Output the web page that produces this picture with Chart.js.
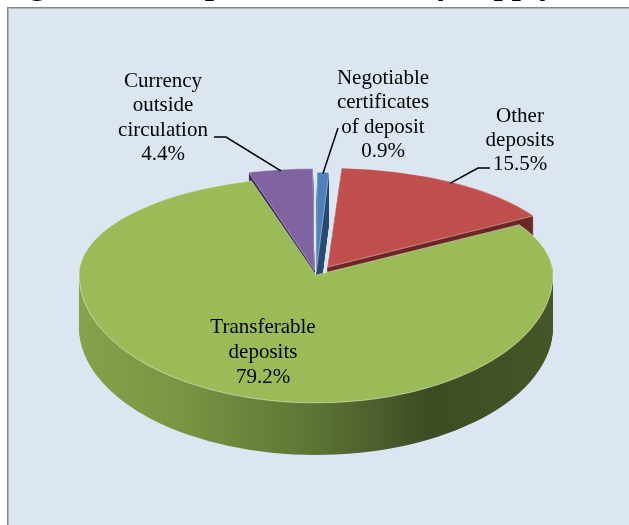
<!DOCTYPE html>
<html>
<head>
<meta charset="utf-8">
<title>Composition of money supply</title>
<script src="https://cdn.jsdelivr.net/npm/chart.js@4.4.1/dist/chart.umd.min.js"></script>
<style>
	html, body { margin: 0; padding: 0; background: #fff; }
	#wrap { width: 629px; height: 525px; }
</style>
</head>
<body>
<div id="wrap"><canvas id="chart-money-supply" width="629" height="525"></canvas></div>
<script>
// Data (clockwise from 12 o'clock)
const CATEGORIES = ["Negotiable certificates of deposit", "Other deposits", "Transferable deposits", "Currency outside circulation"];
const SHARES = [0.9, 15.5, 79.2, 4.4];
const LABEL_LINES = [["Negotiable", "certificates", "of deposit"], ["Other", "deposits"], ["Transferable", "deposits"], ["Currency", "outside", "circulation"]];
const TITLE = "Figure 4: Composition of money supply";

// Look
const COLORS = ["#4f81bd", "#c0504d", "#9bbb59", "#8064a2"];
const SIDE_COLORS = ["#2b4b72", "#6b2826", null, "#3b2c50"];
const EXPLODE = [24, 88, 0, 48];

// Fake perspective: far half flatter than near half, both hinged at the apex
const CX = 316; // chart centre x (chart coords = screen coords)
const CY_C = 287; // chart centre y in chart coords
const APEX_Y = 275; // where the centre lands on screen
const K_TOP = 0.413;
const K_BOT = 0.54;
const DEPTH = 52;

// Label boxes: centre x, first line y, line height, and leader points
const LABEL_BOXES = [
	{ x: 383, y: 78, lh: 24.5, leader: [[338, 128]] },
	{ x: 520, y: 116, lh: 24, leader: [[490, 168], [478, 168]] },
	{ x: 263, y: 327, lh: 25, leader: null },
	{ x: 163, y: 81, lh: 24.5, leader: [[214, 137], [226, 137]] },
];

const toScreen = (x, y) => ({ x: x, y: APEX_Y + (y - CY_C) * (y < CY_C ? K_TOP : K_BOT) });

const edgePoint = (arc, inset) => {
	const offset = (arc.options.offset || 0) / 4;
	const half = (arc.startAngle + arc.endAngle) / 2;
	const fix = 1 - Math.sin(Math.min(Math.PI, arc.circumference));
	const r = arc.outerRadius + offset * fix + offset - inset;
	return toScreen(arc.x + Math.cos(half) * r, arc.y + Math.sin(half) * r);
};

const drawArcWith = (ctx, arc, fill) => {
	if (!fill) {
		arc.draw(ctx);
		return;
	}
	const saved = arc.options;
	arc.options = Object.assign(Object.create(saved), { backgroundColor: fill, borderWidth: 0 });
	arc.draw(ctx);
	arc.options = saved;
};

const pie3d = {
	id: "pie3d",
	beforeDraw(chart) {
		const ctx = chart.ctx;
		ctx.save();
		ctx.fillStyle = "#ffffff";
		ctx.fillRect(0, 0, chart.width, chart.height);
		ctx.fillStyle = "#dce6f2";
		ctx.fillRect(8, 8, chart.width - 8, chart.height - 8);
		ctx.fillStyle = "#858585";
		ctx.fillRect(7, 7, 1, chart.height - 7);
		ctx.fillRect(7, 7, chart.width - 7, 1);
		ctx.fillStyle = "#b4b4b4";
		ctx.fillRect(8, 8, 1, chart.height - 8);
		ctx.fillRect(8, 8, chart.width - 8, 1);
		// figure caption, cut off by the top of the page
		ctx.fillStyle = "#000";
		ctx.font = 'bold 33px "Liberation Serif", "Times New Roman", serif';
		ctx.textAlign = "left";
		ctx.textBaseline = "alphabetic";
		ctx.fillText(TITLE, 0, -6);
		ctx.restore();
	},
	beforeDatasetsDraw(chart) {
		const ctx = chart.ctx;
		const arcs = chart.getDatasetMeta(0).data;
		const W = chart.width;
		const H = chart.height;
		const grad = ctx.createLinearGradient(CX - 237, 0, CX + 237, 0);
		grad.addColorStop(0, "#86a24b");
		grad.addColorStop(0.2, "#7b9644");
		grad.addColorStop(0.5, "#5d7335");
		grad.addColorStop(0.74, "#3d4c23");
		grad.addColorStop(1, "#465627");
		const fills = SIDE_COLORS.map((c) => c || grad);

		// d > 0: side walls, layer by layer; d = 0: top faces
		for (let d = DEPTH; d >= 0; d--) {
			[
				{ k: K_TOP, clip: [0, -H, W, APEX_Y + d + H] },
				{ k: K_BOT, clip: [0, APEX_Y + d, W, 2 * H] },
			].forEach((half) => {
				ctx.save();
				ctx.beginPath();
				ctx.rect(...half.clip);
				ctx.clip();
				ctx.translate(CX, APEX_Y + d);
				ctx.scale(1, half.k);
				ctx.translate(-CX, -CY_C);
				arcs.forEach((arc, i) => drawArcWith(ctx, arc, d ? fills[i] : null));
				ctx.restore();
			});
		}
		return false;
	},
	afterDraw(chart) {
		const ctx = chart.ctx;
		const arcs = chart.getDatasetMeta(0).data;
		ctx.save();
		ctx.font = '21px "Liberation Serif", "Times New Roman", serif';
		ctx.fillStyle = "#000";
		ctx.textAlign = "center";
		ctx.textBaseline = "middle";
		ctx.strokeStyle = "#000";
		ctx.lineWidth = 1.5;
		LABEL_BOXES.forEach((box, i) => {
			const lines = [...LABEL_LINES[i], SHARES[i].toFixed(1) + "%"];
			lines.forEach((t, j) => ctx.fillText(t, box.x, box.y + j * box.lh));
			if (box.leader) {
				const end = edgePoint(arcs[i], 3);
				ctx.beginPath();
				box.leader.forEach((p, k) => (k ? ctx.lineTo(p[0], p[1]) : ctx.moveTo(p[0], p[1])));
				ctx.lineTo(end.x, end.y);
				ctx.stroke();
			}
		});
		ctx.restore();
	},
};

const CHART_DATA = {
	labels: CATEGORIES,
	datasets: [
		{
			data: SHARES,
			backgroundColor: COLORS,
			borderColor: "rgba(255,255,255,0.55)",
			borderWidth: 1,
			offset: EXPLODE,
			radius: 237,
			clip: false,
		},
	],
};

const CHART_CONFIG = {
	type: "pie",
	data: CHART_DATA,
	options: {
		responsive: false,
		animation: false,
		events: [],
		layout: {
			padding: { left: 3, top: 49, right: 0, bottom: 0 },
		},
		plugins: {
			legend: { display: false },
			tooltip: { enabled: false },
		},
	},
	plugins: [pie3d],
};

new Chart(document.getElementById("chart-money-supply"), CHART_CONFIG);
</script>
</body>
</html>
